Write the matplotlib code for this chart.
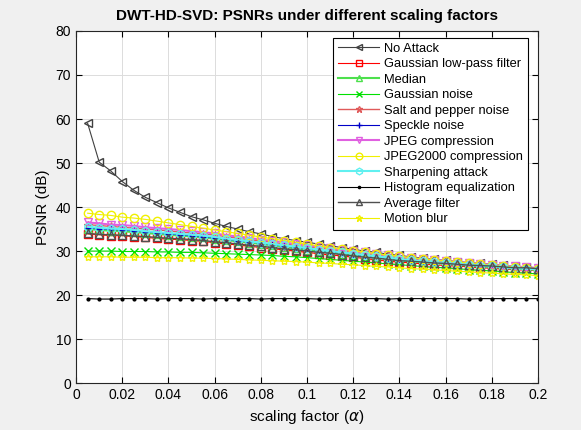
import matplotlib
matplotlib.use("Agg")
import matplotlib.pyplot as plt
import numpy as np

plt.rcParams['font.family'] = ['Liberation Sans', 'DejaVu Sans']

# Data: scaling factor alpha = 0.005 ... 0.2
alpha = np.arange(1, 41) * 0.005

no_attack = [59.0, 50.2, 48.2, 45.8, 43.8, 42.2, 41.0, 39.8, 38.8, 37.8,
             37.1, 36.3, 35.6, 35.0, 34.4, 33.9, 33.3, 32.8, 32.4, 32.0,
             31.6, 31.2, 30.8, 30.4, 30.0, 29.7, 29.3, 29.0, 28.7, 28.4,
             28.1, 27.9, 27.6, 27.4, 27.2, 27.0, 26.8, 26.6, 26.4, 26.2]
gauss_lp = [33.9, 33.7, 33.5, 33.5, 33.3, 33.1, 32.9, 32.7, 32.6, 32.4,
            32.2, 31.9, 31.6, 31.4, 31.1, 30.8, 30.5, 30.3, 30.0, 29.7,
            29.4, 29.1, 28.9, 28.6, 28.3, 28.0, 27.7, 27.5, 27.3, 27.1,
            26.9, 26.7, 26.6, 26.4, 26.2, 26.1, 25.9, 25.8, 25.7, 25.5]
median = [35.0, 34.8, 34.6, 34.5, 34.3, 34.1, 33.9, 33.7, 33.5, 33.3,
          33.1, 32.8, 32.5, 32.2, 31.9, 31.6, 31.3, 31.0, 30.6, 30.3,
          30.0, 29.7, 29.4, 29.1, 28.8, 28.5, 28.2, 27.9, 27.7, 27.5,
          27.3, 27.1, 26.9, 26.7, 26.5, 26.4, 26.2, 26.0, 25.9, 25.7]
gauss_noise = [30.0, 30.0, 30.0, 29.9, 29.9, 29.9, 29.8, 29.8, 29.7, 29.7,
               29.6, 29.5, 29.4, 29.3, 29.2, 29.1, 29.0, 28.8, 28.7, 28.5,
               28.3, 28.1, 27.9, 27.7, 27.5, 27.3, 27.1, 26.9, 26.7, 26.5,
               26.3, 26.2, 26.0, 25.8, 25.6, 25.5, 25.3, 25.1, 25.0, 24.8]
salt_pepper = [36.0, 35.8, 35.6, 35.4, 35.2, 35.0, 34.8, 34.6, 34.3, 34.1,
               33.9, 33.6, 33.3, 32.9, 32.6, 32.3, 32.0, 31.6, 31.3, 31.0,
               30.7, 30.4, 30.0, 29.7, 29.4, 29.1, 28.8, 28.4, 28.2, 28.0,
               27.8, 27.6, 27.3, 27.1, 26.9, 26.8, 26.6, 26.3, 26.2, 26.0]
speckle = [35.3, 35.1, 34.9, 34.8, 34.6, 34.4, 34.2, 33.9, 33.7, 33.5,
           33.3, 33.0, 32.7, 32.4, 32.1, 31.8, 31.5, 31.2, 30.9, 30.6,
           30.2, 29.9, 29.6, 29.3, 29.0, 28.7, 28.4, 28.1, 27.9, 27.7,
           27.5, 27.3, 27.0, 26.8, 26.6, 26.5, 26.3, 26.1, 26.0, 25.8]
jpeg = [36.5, 36.3, 36.0, 35.9, 35.7, 35.4, 35.2, 35.0, 34.8, 34.5,
        34.3, 34.0, 33.6, 33.3, 33.0, 32.6, 32.3, 32.0, 31.6, 31.3,
        31.0, 30.7, 30.3, 30.0, 29.7, 29.3, 29.0, 28.7, 28.4, 28.2,
        28.0, 27.8, 27.5, 27.3, 27.1, 26.9, 26.7, 26.5, 26.3, 26.1]
jpeg2000 = [38.6, 38.3, 38.1, 37.7, 37.5, 37.2, 36.8, 36.4, 36.0, 35.6,
            35.2, 34.8, 34.4, 34.0, 33.6, 33.2, 32.8, 32.4, 32.0, 31.6,
            31.2, 30.8, 30.5, 30.1, 29.8, 29.4, 29.1, 28.8, 28.5, 28.2,
            28.0, 27.7, 27.5, 27.3, 27.0, 26.8, 26.6, 26.4, 26.2, 26.0]
sharpening = [35.5, 35.3, 35.1, 35.0, 34.8, 34.5, 34.3, 34.1, 33.9, 33.7,
              33.5, 33.2, 32.8, 32.5, 32.2, 31.9, 31.6, 31.3, 31.0, 30.7,
              30.3, 30.0, 29.7, 29.4, 29.1, 28.8, 28.5, 28.2, 27.9, 27.7,
              27.5, 27.3, 27.1, 26.9, 26.7, 26.6, 26.3, 26.1, 26.0, 25.8]
histogram = [19.2, 19.1, 19.1, 19.2, 19.2, 19.2, 19.1, 19.2, 19.2, 19.2,
             19.1, 19.2, 19.2, 19.2, 19.2, 19.1, 19.2, 19.2, 19.2, 19.2,
             19.1, 19.2, 19.2, 19.2, 19.2, 19.2, 19.1, 19.2, 19.2, 19.2,
             19.2, 19.2, 19.2, 19.1, 19.2, 19.2, 19.2, 19.2, 19.2, 19.2]
average = [34.0, 33.8, 33.7, 33.6, 33.4, 33.3, 33.1, 32.9, 32.8, 32.6,
           32.4, 32.1, 31.9, 31.6, 31.3, 31.1, 30.8, 30.5, 30.3, 30.0,
           29.7, 29.5, 29.2, 28.9, 28.6, 28.4, 28.1, 27.8, 27.7, 27.5,
           27.3, 27.2, 27.0, 26.8, 26.7, 26.6, 26.4, 26.2, 26.2, 26.0]
motion_blur = [28.7, 28.7, 28.7, 28.6, 28.6, 28.6, 28.5, 28.5, 28.5, 28.4,
               28.4, 28.3, 28.2, 28.1, 28.0, 27.9, 27.8, 27.7, 27.6, 27.5,
               27.3, 27.2, 27.0, 26.9, 26.7, 26.5, 26.4, 26.2, 26.0, 25.9,
               25.7, 25.6, 25.4, 25.3, 25.1, 25.0, 24.8, 24.7, 24.6, 24.4]

series = [
    ("No Attack", no_attack, "#404040", "<", 0.8),
    ("Gaussian low-pass filter", gauss_lp, "#ff0000", "s", 0.8),
    ("Median", median, "#4de04d", "^", 1.5),
    ("Gaussian noise", gauss_noise, "#00e000", "x", 0.8),
    ("Salt and pepper noise", salt_pepper, "#e05a5a", "*", 1.0),
    ("Speckle noise", speckle, "#0000c8", "+", 0.8),
    ("JPEG compression", jpeg, "#e060e0", "v", 1.5),
    ("JPEG2000 compression", jpeg2000, "#f0f000", "o", 0.8),
    ("Sharpening attack", sharpening, "#60f0f0", "h", 1.5),
    ("Histogram equalization", histogram, "#000000", ".", 0.8),
    ("Average filter", average, "#505050", "^", 1.0),
    ("Motion blur", motion_blur, "#f0f000", "*", 0.8),
]

fig = plt.figure(figsize=(5.81, 4.30), dpi=100, facecolor="#f0f0f0")
ax = fig.add_axes([0.131, 0.109, 0.795, 0.819])

for name, vals, col, mk, lw in series:
    if mk in ("x", "+", "."):
        ax.plot(alpha, vals, color=col, marker=mk, lw=lw, ms=6 if mk != "." else 4,
                label=name)
    else:
        ax.plot(alpha, vals, color=col, marker=mk, lw=lw, ms=6,
                mfc="none", mec=col, mew=1.0, label=name)

ax.set_xlim(0, 0.2)
ax.set_ylim(0, 80)
ax.set_xticks(np.arange(0, 0.201, 0.02))
ax.set_xticklabels(["0", "0.02", "0.04", "0.06", "0.08", "0.1", "0.12",
                    "0.14", "0.16", "0.18", "0.2"])
ax.set_yticks(np.arange(0, 81, 10))
ax.grid(True, color="#dcdcdc", lw=0.7)
ax.tick_params(direction="in", top=True, right=True, labelsize=10, length=4)
for sp in ax.spines.values():
    sp.set_color("#262626")
    sp.set_linewidth(0.8)

ax.set_title("DWT-HD-SVD: PSNRs under different scaling factors",
             fontsize=11, fontweight="bold", pad=8)
ax.set_xlabel(r"scaling factor ($\alpha$)", fontsize=11)
ax.set_ylabel("PSNR (dB)", fontsize=11)

leg = ax.legend(loc="upper right", bbox_to_anchor=(0.978, 0.98),
                fontsize=9.3, handlelength=3.2,
                markerscale=0.8, fancybox=False, edgecolor="black",
                framealpha=1, borderaxespad=0.0, labelspacing=0.27,
                borderpad=0.35, handletextpad=0.4)
leg.get_frame().set_linewidth(0.8)

fig.savefig("out.png", dpi=100, facecolor=fig.get_facecolor())
